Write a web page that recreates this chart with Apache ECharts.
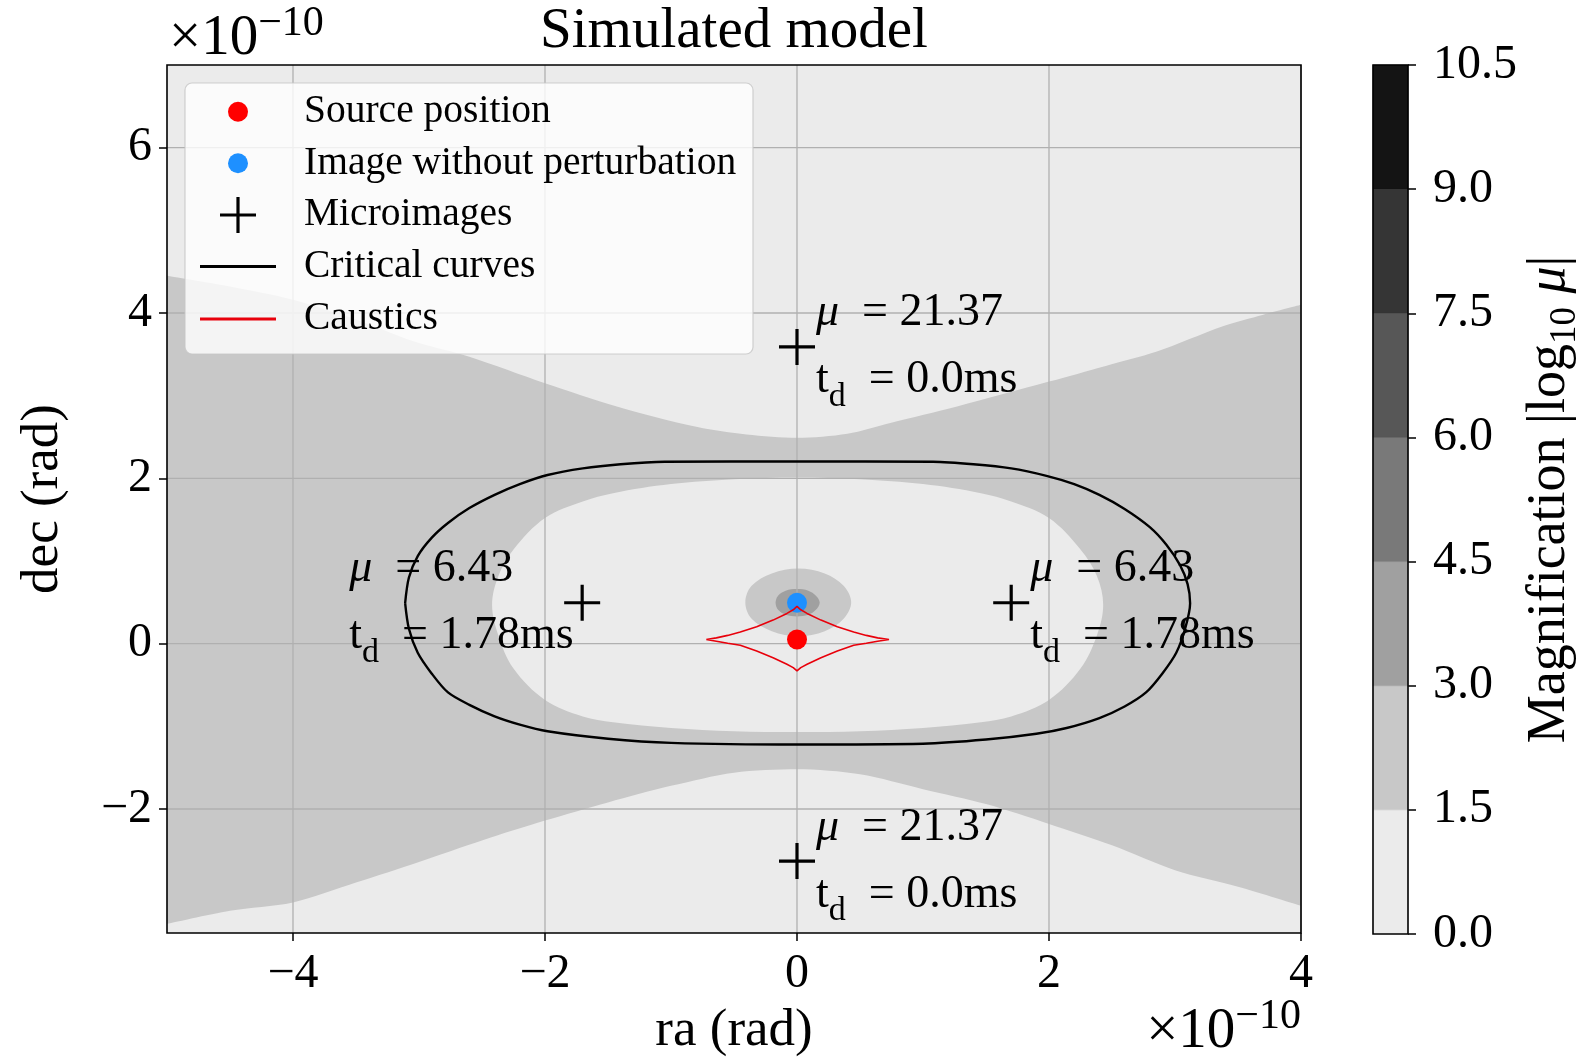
<!DOCTYPE html>
<html>
<head>
<meta charset="utf-8">
<script src="https://cdn.jsdelivr.net/npm/echarts@6/dist/echarts.min.js"></script>
<style>
  html, body { margin: 0; padding: 0; background: #ffffff; }
  #chart { width: 1585px; height: 1063px; }
</style>
</head>
<body>
<div id="chart"></div>
<script>
// ---------- data (angles in units of 1e-10 rad) ----------
const xRange = [-5, 4];
const yRange = [-3.5, 7];
const xTicks = [-4, -2, 0, 2, 4];
const yTicks = [-2, 0, 2, 4, 6];

// colour-bar levels of |log10 mu|
const levelBounds = [0, 1.5, 3, 4.5, 6, 7.5, 9, 10.5];

// boundary of the low-magnification zone above the lens (level 0 above it)
const upperBoundary = [
  [-5, 4.45], [-4.5, 4.32], [-4, 4.16], [-3.5, 3.92], [-3.05, 3.66], [-2.6, 3.47],
  [-2, 3.15], [-1.43, 2.87], [-0.79, 2.62], [-0.4, 2.53], [0, 2.49], [0.4, 2.54],
  [0.74, 2.67], [1.27, 2.87], [2, 3.17], [2.45, 3.36], [2.85, 3.53], [3.38, 3.84],
  [3.7, 3.98], [4, 4.10]
];
// boundary of the low-magnification zone below the lens (level 0 below it)
const lowerBoundary = [
  [-5, -3.39], [-4.5, -3.23], [-4, -3.13], [-3.5, -2.89], [-3, -2.64], [-2.5, -2.38],
  [-2, -2.14], [-1.5, -1.92], [-1, -1.72], [-0.5, -1.56], [0, -1.52], [0.5, -1.58],
  [1, -1.76], [1.5, -1.94], [2, -2.18], [2.5, -2.44], [3, -2.74], [3.5, -2.94], [4, -3.17]
];
// level-0 region enclosed by the critical curve
const innerRegion = [
  [-2.42, 0.47], [-2.37, 0.82], [-2.25, 1.14], [-2.0, 1.52], [-1.7, 1.72], [-1.46, 1.82],
  [-1.0, 1.93], [-0.5, 1.99], [0, 2.01], [0.5, 1.99], [1.0, 1.93], [1.46, 1.82],
  [1.7, 1.72], [2.0, 1.52], [2.25, 1.14], [2.38, 0.82], [2.43, 0.47], [2.38, 0.10],
  [2.25, -0.30], [2.0, -0.68], [1.7, -0.88], [1.46, -0.95], [1.0, -1.02], [0.5, -1.06],
  [0, -1.07], [-0.5, -1.06], [-1.0, -1.02], [-1.46, -0.95], [-1.7, -0.88], [-2.0, -0.68],
  [-2.25, -0.30], [-2.37, 0.10]
];
const innerLevel = 0;
// halo around the unperturbed image
const haloOuter = [
  [0.43, 0.50], [0.37, 0.70], [0.22, 0.85], [0.01, 0.91], [-0.20, 0.85], [-0.36, 0.70],
  [-0.41, 0.50], [-0.36, 0.30], [-0.20, 0.15], [0.01, 0.09], [0.22, 0.15], [0.37, 0.30]
];
const haloOuterLevel = 1;
const haloInner = [
  [0.18, 0.495], [0.15, 0.58], [0.09, 0.64], [0, 0.66], [-0.09, 0.64], [-0.15, 0.58],
  [-0.17, 0.495], [-0.15, 0.41], [-0.09, 0.35], [0, 0.33], [0.09, 0.35], [0.15, 0.41]
];
const haloInnerLevel = 2;

const criticalCurve = [
  [-3.11, 0.49], [-3.08, 0.80], [-3.01, 1.06], [-2.90, 1.28], [-2.77, 1.46], [-2.60, 1.64],
  [-2.40, 1.80], [-2.20, 1.93], [-1.98, 2.04], [-1.70, 2.12], [-1.40, 2.17], [-1.05, 2.20],
  [0, 2.205], [1.08, 2.20], [1.40, 2.17], [1.70, 2.12], [1.98, 2.03], [2.20, 1.93],
  [2.40, 1.80], [2.60, 1.63], [2.80, 1.41], [2.93, 1.20], [3.04, 0.95], [3.10, 0.72],
  [3.12, 0.49], [3.08, 0.18], [3.01, -0.11], [2.90, -0.36], [2.77, -0.59], [2.60, -0.76],
  [2.40, -0.90], [2.14, -1.02], [1.90, -1.09], [1.50, -1.16], [1.00, -1.21], [0, -1.22],
  [-1.00, -1.20], [-1.50, -1.15], [-1.98, -1.06], [-2.20, -0.98], [-2.40, -0.88],
  [-2.60, -0.74], [-2.77, -0.59], [-2.90, -0.36], [-3.01, -0.11], [-3.08, 0.18], [-3.11, 0.49]
];
const caustic = [
  [-0.72, 0.05], [-0.64, 0.07], [-0.55, 0.10], [-0.45, 0.14], [-0.32, 0.205], [-0.19, 0.285],
  [-0.08, 0.366], [-0.03, 0.41], [0, 0.45], [0.03, 0.41], [0.08, 0.366], [0.19, 0.285],
  [0.32, 0.205], [0.45, 0.14], [0.55, 0.10], [0.64, 0.07], [0.73, 0.05], [0.64, 0.03],
  [0.55, 0.005], [0.45, -0.02], [0.32, -0.09], [0.19, -0.17], [0.08, -0.25], [0.03, -0.29],
  [0, -0.33], [-0.03, -0.29], [-0.08, -0.25], [-0.19, -0.17], [-0.32, -0.09], [-0.45, -0.02],
  [-0.55, 0.005], [-0.64, 0.03], [-0.72, 0.05]
];

const sourcePosition = [[0, 0.05]];
const unperturbedImage = [[0, 0.495]];
const microImages = [[0, 3.59], [-1.705, 0.495], [1.70, 0.495], [0, -2.63]];
const magnifications = [21.37, 6.43, 6.43, 21.37];
const timeDelays = ['0.0', '1.78', '1.78', '0.0'];

// ---------- style ----------
const FONT = '"Liberation Serif", "Times New Roman", serif';
const levelColors = ['#ebebeb', '#c8c8c8', '#a0a0a0', '#797979', '#575757', '#353535', '#141414'];
const GRID = { left: 167, top: 65, width: 1134, height: 869 };
const CBAR = { left: 1373, top: 65, width: 44, height: 869 };
const PLUS = 'path://M16.4,0H19.6V36H16.4ZM0,16.4H36V19.6H0Z';
const LEGEND_X = 200;      // left edge of the legend handles
const HANDLE_W = 76;       // handle box width

const fmtTick = v => (v < 0 ? '\u2212' + Math.abs(v) : String(v));

function regionSeries(points, level, z) {
  return {
    type: 'custom',
    silent: true,
    z: z,
    clip: true,
    data: [[0, 0]],
    renderItem: (params, api) => ({
      type: 'polygon',
      shape: { points: points.map(p => api.coord(p)), smooth: 0.35 },
      style: { fill: levelColors[level], stroke: null }
    })
  };
}

const chart = echarts.init(document.getElementById('chart'), null, { renderer: 'canvas' });

const legendText = {
  fontFamily: FONT, fontSize: 39.5, color: '#000', lineHeight: 44, padding: [0, 0, 0, 23]
};
const legendBase = {
  orient: 'vertical', padding: 0, itemWidth: HANDLE_W, selectedMode: false,
  textStyle: legendText, itemStyle: { borderWidth: 0 }, z: 11
};

const multiplierRich = {
  n: { fontSize: 57, fontFamily: FONT, fill: '#000', lineHeight: 72, verticalAlign: 'middle' },
  s: { fontSize: 42, fontFamily: FONT, fill: '#000', lineHeight: 42, verticalAlign: 'top' }
};

const option = {
  animation: false,
  backgroundColor: '#ffffff',
  textStyle: { fontFamily: FONT },
  grid: [
    Object.assign({ show: true, backgroundColor: levelColors[1], borderWidth: 0 }, GRID),
    Object.assign({ show: false }, CBAR)
  ],
  xAxis: [
    {
      type: 'value', gridIndex: 0, min: xRange[0], max: xRange[1], position: 'bottom',
      axisLine: { show: false, onZero: false },
      splitLine: { show: false },
      axisTick: { show: true, customValues: xTicks, length: 8, lineStyle: { color: '#000', width: 1.5 } },
      axisLabel: { customValues: xTicks, formatter: fmtTick, margin: 17, color: '#000', fontSize: 48, fontFamily: FONT },
      name: 'ra (rad)', nameLocation: 'middle', nameGap: 72,
      nameTextStyle: { fontSize: 53, fontFamily: FONT, color: '#000' }
    },
    {
      type: 'value', gridIndex: 1, min: 0, max: 1, show: false,
      axisLine: { show: false, onZero: false }
    }
  ],
  yAxis: [
    {
      type: 'value', gridIndex: 0, min: yRange[0], max: yRange[1], position: 'left',
      axisLine: { show: false, onZero: false },
      splitLine: { show: false },
      axisTick: { show: true, customValues: yTicks, length: 8, lineStyle: { color: '#000', width: 1.5 } },
      axisLabel: { customValues: yTicks, formatter: fmtTick, margin: 15, color: '#000', fontSize: 48, fontFamily: FONT },
      name: 'dec (rad)', nameLocation: 'middle', nameGap: 97, nameRotate: 90,
      nameTextStyle: { fontSize: 53, fontFamily: FONT, color: '#000' }
    },
    {
      type: 'value', gridIndex: 1, position: 'right', min: levelBounds[0],
      max: levelBounds[levelBounds.length - 1], interval: 1.5,
      axisLine: { show: false, onZero: false },
      splitLine: { show: false },
      axisTick: { show: true, length: 8, lineStyle: { color: '#000', width: 1.5 } },
      axisLabel: { formatter: v => v.toFixed(1), margin: 25, color: '#000', fontSize: 48, fontFamily: FONT },
      name: '{a|Magnification |log}{s|10}{a| }{m|\u03bc}{a||}',
      nameLocation: 'middle', nameGap: 108, nameRotate: 90,
      nameTextStyle: {
        fontSize: 54, fontFamily: FONT, color: '#000',
        rich: {
          a: { fontSize: 54, fontFamily: FONT, color: '#000', lineHeight: 68, verticalAlign: 'middle' },
          s: { fontSize: 37, fontFamily: FONT, color: '#000', lineHeight: 48, verticalAlign: 'bottom' },
          m: { fontSize: 54, fontFamily: FONT, fontStyle: 'italic', color: '#000', lineHeight: 68, verticalAlign: 'middle' }
        }
      }
    }
  ],
  legend: [
    Object.assign({}, legendBase, {
      left: LEGEND_X + (HANDLE_W - 20) / 2, top: 89.7, itemHeight: 20, itemGap: 7.6,
      data: [{ name: 'Source position', icon: 'circle' }, { name: 'Image without perturbation', icon: 'circle' }]
    }),
    Object.assign({}, legendBase, {
      left: LEGEND_X + (HANDLE_W - 36) / 2, top: 193, itemHeight: 36,
      data: [{ name: 'Microimages', icon: PLUS }]
    }),
    Object.assign({}, legendBase, {
      left: LEGEND_X, top: 244.5, itemHeight: 3, itemGap: 8.6,
      data: [{ name: 'Critical curves', icon: 'rect' }, { name: 'Caustics', icon: 'rect' }]
    })
  ],
  graphic: [
    {
      type: 'rect', z: 10, silent: true,
      shape: { x: 185, y: 83, width: 568, height: 271, r: 7 },
      style: { fill: 'rgba(255,255,255,0.8)', stroke: 'rgba(200,200,200,0.85)', lineWidth: 1.2 }
    },
    {
      type: 'text', z: 10, silent: true,
      x: GRID.left + GRID.width / 2, y: 32,
      style: {
        text: 'Simulated model', fill: '#000', font: '57px ' + FONT,
        align: 'center', verticalAlign: 'middle', textAlign: 'center', textVerticalAlign: 'middle'
      }
    },
    {
      type: 'text', z: 10, silent: true,
      x: GRID.left + 2, y: 39,
      style: {
        text: '{n|\u00d710}{s|\u221210}', fill: '#000',
        align: 'left', verticalAlign: 'middle', textAlign: 'left', textVerticalAlign: 'middle',
        rich: multiplierRich
      }
    },
    {
      type: 'text', z: 10, silent: true,
      x: GRID.left + GRID.width, y: 1032,
      style: {
        text: '{n|\u00d710}{s|\u221210}', fill: '#000',
        align: 'right', verticalAlign: 'middle', textAlign: 'right', textVerticalAlign: 'middle',
        rich: multiplierRich
      }
    }
  ],
  series: [
    // level-0 zones above and below the magnification band
    {
      type: 'line', silent: true, z: 1, data: upperBoundary, symbol: 'none', showSymbol: false,
      smooth: 0.3,
      lineStyle: { width: 0, opacity: 0 },
      areaStyle: { origin: 'end', color: levelColors[0], opacity: 1 }
    },
    {
      type: 'line', silent: true, z: 1, data: lowerBoundary, symbol: 'none', showSymbol: false,
      smooth: 0.3,
      lineStyle: { width: 0, opacity: 0 },
      areaStyle: { origin: 'start', color: levelColors[0], opacity: 1 }
    },
    regionSeries(innerRegion, innerLevel, 2),
    regionSeries(haloOuter, haloOuterLevel, 2),
    regionSeries(haloInner, haloInnerLevel, 2),
    // grid lines and frame
    {
      type: 'custom', silent: true, z: 3, clip: false, data: [[0, 0]],
      renderItem: (params, api) => {
        const children = [];
        xTicks.forEach(v => {
          const a = api.coord([v, yRange[0]]), b = api.coord([v, yRange[1]]);
          children.push({ type: 'line', shape: { x1: a[0], y1: a[1], x2: b[0], y2: b[1] },
            style: { stroke: '#b0b0b0', lineWidth: 1.3 } });
        });
        yTicks.forEach(v => {
          const a = api.coord([xRange[0], v]), b = api.coord([xRange[1], v]);
          children.push({ type: 'line', shape: { x1: a[0], y1: a[1], x2: b[0], y2: b[1] },
            style: { stroke: '#b0b0b0', lineWidth: 1.3 } });
        });
        const tl = api.coord([xRange[0], yRange[1]]), br = api.coord([xRange[1], yRange[0]]);
        children.push({ type: 'rect', shape: { x: tl[0], y: tl[1], width: br[0] - tl[0], height: br[1] - tl[1] },
          style: { fill: null, stroke: '#000', lineWidth: 1.6 } });
        return { type: 'group', children };
      }
    },
    {
      name: 'Source position', type: 'scatter', z: 5, data: sourcePosition,
      symbol: 'circle', symbolSize: 20, itemStyle: { color: '#ff0000', opacity: 1 }
    },
    {
      name: 'Image without perturbation', type: 'scatter', z: 5, data: unperturbedImage,
      symbol: 'circle', symbolSize: 20, itemStyle: { color: '#1e90ff', opacity: 1 }
    },
    {
      name: 'Microimages', type: 'scatter', z: 5,
      symbol: PLUS, symbolSize: 36, itemStyle: { color: '#000', opacity: 1 },
      data: microImages.map(p => ({
        value: p,
        label: { position: p[0] < 0 ? [-215, 18] : [37, 18] }
      })),
      label: {
        show: true, align: 'left', verticalAlign: 'middle',
        formatter: p => '{mu|\u03bc}{n|  = ' + magnifications[p.dataIndex].toFixed(2) + '}\n' +
                        '{n|t}{sub|d}{n|  = ' + timeDelays[p.dataIndex] + 'ms}',
        rich: {
          mu: { fontSize: 46, fontFamily: FONT, fontStyle: 'italic', color: '#000', lineHeight: 67, verticalAlign: 'middle' },
          n: { fontSize: 46, fontFamily: FONT, color: '#000', lineHeight: 67, verticalAlign: 'middle' },
          sub: { fontSize: 34, fontFamily: FONT, color: '#000', lineHeight: 46, verticalAlign: 'bottom' }
        }
      }
    },
    {
      name: 'Critical curves', type: 'line', z: 6, data: criticalCurve,
      symbol: 'none', smooth: 0.3,
      lineStyle: { color: '#000', width: 2.4 }, itemStyle: { color: '#000' }
    },
    {
      name: 'Caustics', type: 'line', z: 6, data: caustic,
      symbol: 'none',
      lineStyle: { color: '#e8000b', width: 1.6 }, itemStyle: { color: '#e8000b' }
    },
    // colour bar
    {
      type: 'custom', silent: true, xAxisIndex: 1, yAxisIndex: 1, z: 2, clip: false,
      data: levelColors.map((c, i) => [0, levelBounds[i]]),
      renderItem: (params, api) => {
        const i = params.dataIndex;
        const a = api.coord([0, levelBounds[i + 1]]);
        const b = api.coord([1, levelBounds[i]]);
        return { type: 'rect', shape: { x: a[0], y: a[1], width: b[0] - a[0], height: b[1] - a[1] },
          style: { fill: levelColors[i], stroke: levelColors[i], lineWidth: 0.5 } };
      }
    },
    {
      type: 'custom', silent: true, xAxisIndex: 1, yAxisIndex: 1, z: 3, clip: false,
      data: [[0, 0]],
      renderItem: (params, api) => {
        const a = api.coord([0, levelBounds[levelBounds.length - 1]]);
        const b = api.coord([1, levelBounds[0]]);
        return { type: 'rect', shape: { x: a[0], y: a[1], width: b[0] - a[0], height: b[1] - a[1] },
          style: { fill: null, stroke: '#000', lineWidth: 1.6 } };
      }
    }
  ]
};

chart.setOption(option);
</script>
</body>
</html>
